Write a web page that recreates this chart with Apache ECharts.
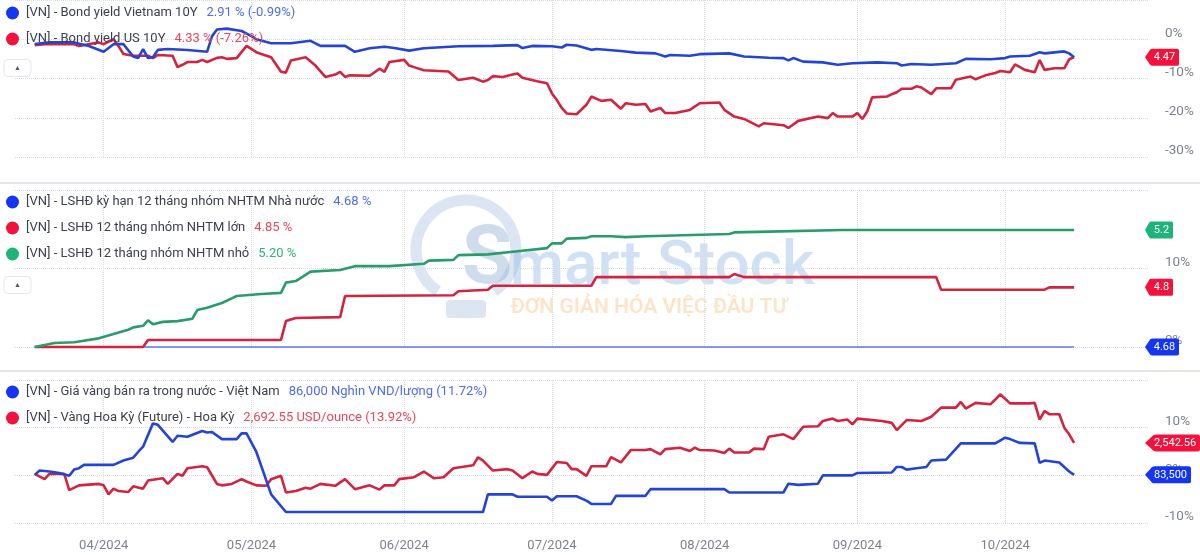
<!DOCTYPE html>
<html><head><meta charset="utf-8">
<script src="https://cdn.jsdelivr.net/npm/echarts@6/dist/echarts.min.js"></script>
<style>html,body{margin:0;padding:0;background:#fff}#c{width:1200px;height:555px}</style>
</head><body><div id="c"></div>
<script>
// ---------- DATA ----------
const YEAR = '2024';
const X_MIN = '2024-03-14';
const X_MAX = '2024-10-30';
const monthTicks = ['2024-04-01','2024-05-01','2024-06-01','2024-07-01','2024-08-01','2024-09-01','2024-10-01'];

// Panel 1: bond yields, % change
const p1VnDates = ['03-18','03-21','03-26','03-29','04-01','04-03','04-05','04-07','04-08','04-09','04-10','04-11','04-12','04-14','04-18','04-22','04-23','04-24','04-26','04-29',
  '05-01','05-02','05-05','05-09','05-13','05-15','05-20','05-22','05-25','05-28','05-30','06-02','06-05','06-12','06-19','06-24','06-25','06-27',
  '07-01','07-03','07-04','07-06','07-09','07-10','07-15','07-18','07-22','07-24','07-25','07-29','07-31','08-06','08-09','08-14','08-17','08-18','08-19','08-21','08-25','08-28','08-31',
  '09-05','09-09','09-10','09-12','09-16','09-21','09-23','09-28','10-01','10-02','10-06','10-08','10-09','10-13','10-14','10-15'];
const p1VnValues = [-1.2,-0.8,-0.8,-1.7,-3.2,-1.25,-1.25,-4.4,-4.8,-2.5,-4.8,-4.6,-2.7,-2.5,-2.75,-3.2,0.8,2.5,2.7,2.1,
  0.8,0,-1,-1,-0.4,-1.7,-1.7,-3.2,-2.3,-1.9,-2.25,-2.9,-2.3,-1.8,-1.7,-1.5,-2.25,-1.7,
  -1.8,-2.1,-1.4,-1.6,-2.7,-2.5,-3.0,-3.4,-3.6,-4.4,-4.0,-4.2,-3.8,-3.6,-4.4,-4.7,-4.8,-5.4,-4.8,-5.7,-5.9,-6.5,-6.1,
  -5.9,-6.1,-6.7,-6.3,-6.5,-6.1,-5.0,-5.1,-4.8,-4.4,-4.2,-3.3,-3.6,-3.1,-3.6,-4.6];

const p1UsDates = ['03-18','03-20','03-26','03-27','03-31','04-01','04-03','04-04','04-05','04-07','04-10','04-11','04-12','04-15','04-16','04-17','04-18','04-20','04-21','04-22','04-24','04-25','04-26','04-28','04-30',
  '05-02','05-03','05-05','05-07','05-08','05-09','05-12','05-14','05-16','05-18','05-19','05-20','05-21','05-25','05-27','05-28','05-29',
  '06-01','06-02','06-03','06-05','06-10','06-12','06-15','06-17','06-18','06-19','06-21','06-23','06-24','06-25','06-28','06-30',
  '07-01','07-02','07-03','07-04','07-06','07-08','07-09','07-11','07-13','07-15','07-16','07-18','07-20','07-21','07-23','07-24','07-26','07-29','07-31',
  '08-04','08-05','08-07','08-09','08-12','08-13','08-17','08-18','08-20','08-24','08-26','08-27','08-28','08-31',
  '09-01','09-02','09-03','09-04','09-07','09-08','09-09','09-10','09-12','09-13','09-14','09-16','09-17','09-20','09-21','09-24','09-25','09-27','09-29','09-30',
  '10-02','10-03','10-05','10-07','10-08','10-09','10-11','10-13','10-14','10-15'];
const p1UsValues = [-1.5,-1.25,-1.25,-1.7,-0.8,-1.25,0,-1.7,-3.75,-4.2,-4.2,-4.8,-4.0,-4.2,-7.1,-6.5,-5.8,-5.8,-5.25,-5.8,-4.75,-4.6,-5.0,-4.8,-1.7,
  -3.3,-3.75,-4.6,-8.3,-8.5,-5.4,-4.6,-6.7,-9.6,-9.0,-8.3,-9.6,-9.2,-9.3,-7.5,-8.3,-5.8,
  -5.25,-6.7,-7.1,-7.9,-8.2,-10.4,-9.8,-10.8,-10.4,-9.4,-9.6,-9.0,-8.75,-9.8,-10.7,-11.2,
  -13.8,-15.5,-17.5,-18.9,-19.1,-16.7,-14.6,-15.7,-15.4,-17.7,-16.3,-16.7,-16.5,-18.4,-17.5,-18.8,-18.8,-18.0,-16.3,
  -16.1,-18.0,-19.7,-20.3,-22.2,-21.4,-21.9,-22.6,-20.8,-19.7,-20.1,-18.8,-19.7,-19.7,
  -18.8,-20.3,-18.4,-14.8,-14.6,-14.0,-13.5,-12.6,-12.6,-12.0,-12.3,-14.0,-12.5,-12.5,-10.3,-9.5,-10.2,-9.2,-8.6,-8.1,
  -8.4,-6.4,-7.8,-8.4,-5.3,-7.8,-7.4,-7.4,-5.1,-4.6];

// Panel 2: deposit rates, % change
const p2StateDates = ['03-18','10-15'];
const p2StateValues = [0,0];
const p2LargeDates = ['03-18','04-09','04-10','05-07','05-08','05-10','05-19','05-20','06-11','06-12','06-18','06-19','07-09','07-10','08-06','08-07','08-09','09-17','09-18','10-09','10-10','10-15'];
const p2LargeValues = [0,0,0.9,0.9,3.3,3.7,3.8,6.5,6.6,7.1,7.3,7.8,7.8,8.9,8.9,9.3,8.9,8.9,7.3,7.3,7.6,7.6];
const p2SmallDates = ['03-18','03-22','03-26','03-31','04-06','04-07','04-09','04-10','04-11','04-13','04-16','04-19','04-20','04-22','04-25','04-27','04-28',
  '05-03','05-07','05-08','05-10','05-13','05-19','05-22','05-29','06-05','06-06','06-11','06-12','06-18','06-24','06-30',
  '07-01','07-03','07-04','07-08','07-09','07-13','07-16','07-20','08-06','08-07','08-14','08-29','10-15'];
const p2SmallValues = [0,0.5,0.6,1.1,2.2,2.5,2.7,3.4,2.9,3.2,3.3,3.6,4.7,5.0,5.6,6.2,6.5,
  6.75,6.9,8.2,8.4,9.6,9.8,10.3,10.3,10.6,11.0,11.1,11.7,11.8,12.2,12.6,
  13.2,13.2,13.8,13.9,14.1,14.1,14.0,14.1,14.4,14.6,14.7,14.9,14.9];

// Panel 3: gold, % change
const p3VnDates = ['03-18','03-19','03-21','03-23','03-25','03-26','03-27','03-28','04-03','04-05','04-07','04-08','04-09','04-11','04-12','04-15','04-16','04-18','04-21','04-22','04-23','04-25','04-28','04-29','04-30',
  '05-02','05-05','05-08','06-17','06-18','06-23','06-24','06-30','07-01','07-02','07-06','07-08','07-09','07-13','07-14','07-20','07-21',
  '08-05','08-06','08-17','08-18','08-20','08-24','08-25','08-31','09-01','09-08','09-09','09-10','09-11','09-13','09-15','09-16','09-19','09-22','09-29',
  '10-01','10-02','10-04','10-07','10-08','10-09','10-12','10-14','10-15'];
const p3VnValues = [0.1,1.0,0.8,0.5,-0.1,1.2,1.5,2.2,2.2,3.1,3.7,4.9,6.0,10.9,10.6,7.0,8.3,8.1,9.3,9.0,9.1,7.6,7.6,8.8,8.8,
  4.9,-4.0,-7.7,-7.7,-4.0,-4.0,-4.5,-4.5,-5.3,-4.4,-4.4,-5.3,-6.0,-6.0,-4.3,-4.3,-2.9,
  -2.9,-3.6,-3.6,-1.75,-2.0,-1.75,0,0,0.5,0.6,1.75,1.75,1.2,1.5,1.75,3.1,3.3,6.7,6.7,
  7.9,7.6,6.8,6.7,2.6,3.1,2.7,0.8,0.1];

const p3UsDates = ['03-18','03-20','03-21','03-24','03-25','03-27','03-31','04-01','04-02','04-03','04-04','04-06','04-07','04-09','04-10','04-13','04-14','04-16','04-17','04-18','04-21','04-22','04-24','04-25','04-27','04-29','04-30',
  '05-02','05-04','05-05','05-07','05-08','05-10','05-12','05-13','05-15','05-18','05-20','05-22','05-25','05-27','05-28','05-30','05-31',
  '06-03','06-05','06-07','06-09','06-11','06-15','06-16','06-17','06-19','06-22','06-23','06-25','06-27','06-28','06-30',
  '07-02','07-04','07-05','07-06','07-08','07-09','07-12','07-13','07-15','07-17','07-20','07-21','07-23','07-24','07-27','07-29','07-30','07-31',
  '08-03','08-05','08-06','08-07','08-10','08-11','08-13','08-14','08-17','08-19','08-21','08-24','08-25','08-27','08-28','08-30','08-31',
  '09-01','09-06','09-08','09-09','09-11','09-14','09-16','09-18','09-21','09-22','09-23','09-25','09-28','09-29','09-30',
  '10-02','10-06','10-07','10-08','10-09','10-10','10-12','10-13','10-14','10-15'];
const p3UsValues = [0.3,-0.8,0.3,0.3,-3.1,-2.1,-1.8,-2.1,-4.0,-2.8,-3.3,-3.5,-2.3,-2.8,-1.1,-0.6,-1.8,0.3,-0.1,1.5,1.9,1.7,-1.8,-2.1,-1.8,-0.8,-1.3,
  -2.1,-2.2,-0.8,-0.1,-3.6,-3.3,-2.6,-2.8,-1.8,-2.2,-0.8,-2.9,-2.1,-3.0,-2.1,-2.1,-0.8,
  -0.4,0.8,-0.6,-0.4,1.5,2.1,3.8,3.1,1.0,1.3,1.0,-0.6,0.8,0.3,0.1,
  2.8,2.6,1.3,1.3,-0.1,1.9,1.9,3.8,2.7,5.3,5.3,5.5,4.4,5.5,5.8,5.1,5.8,5.3,
  5.2,4.7,5.6,4.8,4.8,5.6,5.5,8.1,8.6,7.6,10.2,10.3,11.4,11.9,11.4,11.7,10.7,
  11.9,11.4,11.0,9.5,11.6,11.4,12.3,14.2,14.2,15.4,14.0,15.2,14.9,15.9,17.0,
  15.1,15.1,15.2,11.7,13.5,12.8,12.8,10.0,8.6,6.8];

// Names, legend values, end tags
const names = {
  p1Vn: '[VN] - Bond yield Vietnam 10Y',
  p1Us: '[VN] - Bond yield US 10Y',
  p2State: '[VN] - LSHĐ kỳ hạn 12 tháng nhóm NHTM Nhà nước',
  p2Large: '[VN] - LSHĐ 12 tháng nhóm NHTM lớn',
  p2Small: '[VN] - LSHĐ 12 tháng nhóm NHTM nhỏ',
  p3Vn: '[VN] - Giá vàng bán ra trong nước - Việt Nam',
  p3Us: '[VN] - Vàng Hoa Kỳ (Future) - Hoa Kỳ'
};
const legendValues = {
  p1Vn: '2.91 % (-0.99%)',
  p1Us: '4.33 % (-7.26%)',
  p2State: '4.68 %',
  p2Large: '4.85 %',
  p2Small: '5.20 %',
  p3Vn: '86,000 Nghìn VND/lượng (11.72%)',
  p3Us: '2,692.55 USD/ounce (13.92%)'
};
const tagTexts = { p1Us: '4.47', p2Small: '5.2', p2Large: '4.8', p2State: '4.68', p3Us: '2,542.56', p3Vn: '83,500' };
const yRange1 = [-30, 10], yRange2 = [0, 20], yRange3 = [-10, 20];

// ---------- STYLE ----------
const C = {
  blueLine: '#2444d4', blueDot: '#1435f2', blueTxt: '#4c6cf2',
  redLine: '#d4233f', redDot: '#f2123c', redTxt: '#e8475d',
  greenLine: '#2a9c6c', greenDot: '#1fb477', greenTxt: '#2eb17a'
};
const FONT = 'Roboto, Inter, sans-serif';

function ts(s){ const p = s.split('-').map(Number); return new Date(p[0], p[1]-1, p[2]).getTime(); }
function pts(dates, vals){ const n = Math.min(dates.length, vals.length); const out=[]; for(let i=0;i<n;i++) out.push([ts(YEAR+'-'+dates[i]), vals[i]]); return out; }
const monthTs = monthTicks.map(ts);

const mctx = document.createElement('canvas').getContext('2d');
mctx.font = '11px ' + FONT;
const TAG_PATH = 'path://M0,10 L6,2 Q7,1 8.5,1 L38,1 Q40,1 40,3 L40,17 Q40,19 38,19 L8.5,19 Q7,19 6,18 Z';
function tag(key, vals, color){
  const text = tagTexts[key];
  const w = Math.ceil(mctx.measureText(text).width) + 12;
  return {
    symbol: TAG_PATH, symbolKeepAspect: false, symbolSize: [w, 17], symbolOffset: [w/2 - 3, 0],
    silent: true, animation: false,
    itemStyle: { color: color },
    label: { show: true, position: 'inside', offset: [2.5, 0], color: '#fff', fontSize: 11, fontFamily: FONT, formatter: text },
    data: [{ coord: [ts(X_MAX), vals[vals.length-1]], value: 0 }]
  };
}

function line(key, dates, vals, xi, color, width, tagColor){
  const s = { name: names[key], type: 'line', xAxisIndex: xi, yAxisIndex: xi, data: pts(dates, vals),
    showSymbol: false, symbol: 'none', clip: false, animation: false,
    lineStyle: { color: color, width: width }, itemStyle: { color: color }, z: 3 };
  if (tagTexts[key] && tagColor) s.markPoint = tag(key, vals, tagColor);
  return s;
}

const grids = [
  { left: 15, right: 52, top: 0, height: 157 },
  { left: 15, right: 52, top: 190, height: 157 },
  { left: 15, right: 52, top: 380, height: 143 }
];
function xAxis(i, showLabels){
  return { type: 'value', gridIndex: i, min: ts(X_MIN), max: ts(X_MAX), scale: true,
    axisLine: { show: false }, axisTick: { show: false, customValues: monthTs },
    splitLine: { show: true, lineStyle: { type: 'dotted', color: '#d9dce3', width: 1 } },
    axisLabel: { show: showLabels, customValues: monthTs, color: '#7d828c', fontSize: 13, fontFamily: FONT, margin: 16,
      formatter: v => { const d = new Date(v); return String(d.getMonth()+1).padStart(2,'0') + '/' + d.getFullYear(); } } };
}
function yAxis(i, mm){
  return { type: 'value', gridIndex: i, position: 'right', min: mm[0], max: mm[1], interval: 10,
    axisLine: { show: false }, axisTick: { show: false },
    splitLine: { show: true, lineStyle: { type: 'dotted', color: '#d9dce3', width: 1 } },
    axisLabel: { showMaxLabel: false, formatter: '{value}%', color: '#7d828c', fontSize: 13.5, fontFamily: FONT,
      margin: 17, verticalAlign: 'bottom', lineHeight: 12 } };
}

function legend(keys, colors, top){
  const valKey = {}; keys.forEach((k,i)=>{ valKey[names[k]] = [legendValues[k], 'v'+i]; });
  const rich = { n: { color: '#3d414b', fontSize: 13, fontFamily: FONT, padding: [0,0,0,2] } };
  keys.forEach((k,i)=>{ rich['v'+i] = { color: colors[i][1], fontSize: 13, fontFamily: FONT, padding: [0,0,0,9] }; });
  return { orient: 'vertical', left: 6, top: top, padding: 0, itemGap: 10, icon: 'circle', itemWidth: 13, itemHeight: 13,
    selectedMode: false,
    data: keys.map((k,i)=>({ name: names[k], itemStyle: { color: colors[i][0] } })),
    formatter: name => '{n|' + name + '}{' + valKey[name][1] + '|' + valKey[name][0] + '}',
    textStyle: { color: '#3d414b', fontSize: 13, fontFamily: FONT, lineHeight: 16, rich: rich } };
}

function button(yc){
  return { type: 'group', children: [
    { type: 'rect', shape: { x: 4, y: yc - 8.5, width: 27, height: 17, r: 4 }, style: { fill: '#fff', stroke: '#e3e6ec', lineWidth: 1 } },
    { type: 'text', style: { text: '▲', x: 17.5, y: yc, align: 'center', verticalAlign: 'middle', fontSize: 7, fill: '#555' } }
  ] };
}

const option = {
  backgroundColor: '#fff',
  animation: false,
  grid: grids,
  xAxis: [xAxis(0, false), xAxis(1, false), xAxis(2, true)],
  yAxis: [yAxis(0, yRange1), yAxis(1, yRange2), yAxis(2, yRange3)],
  legend: [
    legend(['p1Vn','p1Us'], [[C.blueDot, C.blueTxt],[C.redDot, C.redTxt]], 5),
    legend(['p2State','p2Large','p2Small'], [[C.blueDot, C.blueTxt],[C.redDot, C.redTxt],[C.greenDot, C.greenTxt]], 194),
    legend(['p3Vn','p3Us'], [[C.blueDot, C.blueTxt],[C.redDot, C.redTxt]], 384)
  ],
  graphic: [
    { type: 'rect', z: 1, shape: { x: 0, y: 182, width: 1200, height: 2 }, style: { fill: '#e4e6ec' } },
    { type: 'rect', z: 1, shape: { x: 0, y: 370, width: 1200, height: 2 }, style: { fill: '#e4e6ec' } },
    button(68), button(285),
    { type: 'arc', z: 0, shape: { cx: 466, cy: 250, r: 50, startAngle: Math.PI/2 + 0.6, endAngle: Math.PI/2 - 0.6 + 2*Math.PI, clockwise: true },
      style: { stroke: 'rgba(150,180,215,0.33)', lineWidth: 11, fill: null } },
    { type: 'rect', z: 0, shape: { x: 446, y: 300, width: 40, height: 18, r: 4 }, style: { fill: 'rgba(150,180,215,0.33)' } },
    { type: 'text', z: 0, style: { text: 'S', x: 487, y: 262, align: 'center', verticalAlign: 'middle', font: 'bold 82px ' + FONT, fill: 'rgba(140,172,210,0.42)' } },
    { type: 'text', z: 0, style: { text: 'mart Stock', x: 510, y: 268, align: 'left', verticalAlign: 'middle', font: '500 62px ' + FONT, fill: 'rgba(150,188,228,0.45)' } },
    { type: 'text', z: 0, style: { text: 'ĐƠN GIẢN HÓA VIỆC ĐẦU TƯ', x: 649, y: 308, align: 'center', verticalAlign: 'middle', font: '600 21px ' + FONT, fill: 'rgba(248,185,110,0.38)' } }
  ],
  series: [
    line('p1Us', p1UsDates, p1UsValues, 0, C.redLine, 2.6, C.redDot),
    line('p1Vn', p1VnDates, p1VnValues, 0, C.blueLine, 2.6, null),
    line('p2State', p2StateDates, p2StateValues, 1, C.blueDot, 1.2, C.blueDot),
    line('p2Large', p2LargeDates, p2LargeValues, 1, C.redLine, 2.6, C.redDot),
    line('p2Small', p2SmallDates, p2SmallValues, 1, C.greenLine, 2.6, C.greenDot),
    line('p3Us', p3UsDates, p3UsValues, 2, C.redLine, 2.6, C.redDot),
    line('p3Vn', p3VnDates, p3VnValues, 2, C.blueLine, 2.6, C.blueDot)
  ]
};
const chart = echarts.init(document.getElementById('c'), null, { renderer: 'canvas' });
chart.setOption(option);
</script></body></html>
